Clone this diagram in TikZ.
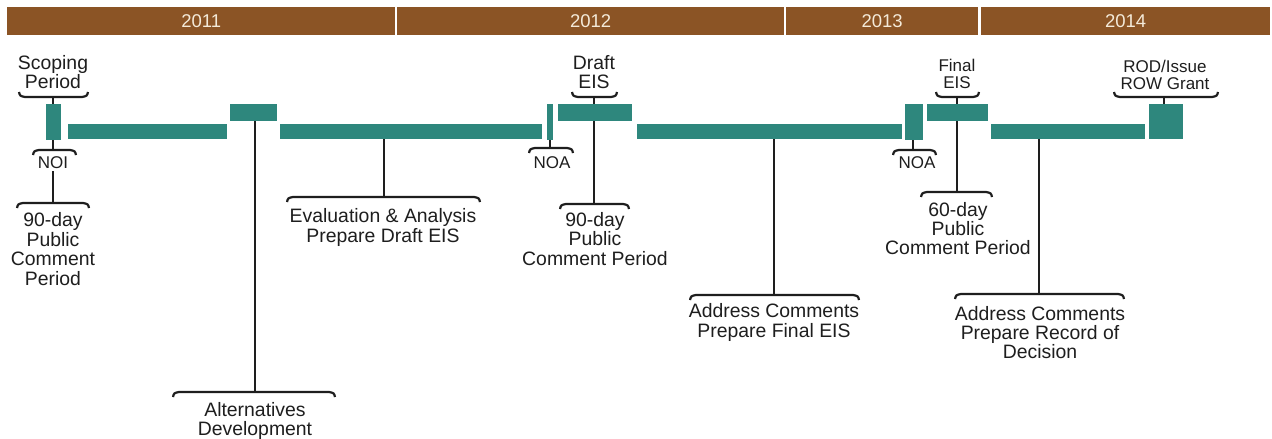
\documentclass[tikz,border=0pt]{standalone}
\usepackage{fontspec}
\setmainfont{Liberation Sans}
\definecolor{yearbrown}{HTML}{8B5425}
\definecolor{phaseteal}{HTML}{2E877D}
\definecolor{yeartext}{HTML}{F4EAD9}
\definecolor{ink}{HTML}{1E1E1E}
\tikzset{
  yearbar/.style={fill=yearbrown, draw=none, text=yeartext, font=\fontsize{18.5}{20}\selectfont, inner sep=0, anchor=north west, minimum height=28},
  phase/.style={fill=phaseteal, draw=none, inner sep=0},
  lbl/.style={font=\fontsize{19.4}{19.4}\selectfont, align=center, inner sep=0, text=ink},
  slbl/.style={font=\fontsize{17}{17.5}\selectfont, align=center, inner sep=0, text=ink},
  stem/.style={draw=ink, line width=2.3pt},
  brk/.style={draw=ink, line width=2.2pt}
}
\newcommand{\tlbrace}[4]{%
  \draw[brk] (#1,{#3+(#4)}) .. controls ({#1+1},{#3+(#4)/5}) .. ({#1+6},#3) -- ({#2-6},#3) .. controls ({#2-1},{#3+(#4)/5}) .. (#2,{#3+(#4)});}
\begin{document}
\begin{tikzpicture}[x=1pt,y=-1pt]
\useasboundingbox (0,0) rectangle (1272,439);
\fill[white] (0,0) rectangle (1272,439);
% year bar
\node[yearbar, minimum width=388] (y11) at (7,7) {2011};
\node[yearbar, minimum width=387] (y12) at (397,7) {2012};
\node[yearbar, minimum width=192] (y13) at (786,7) {2013};
\node[yearbar, minimum width=289] (y14) at (981,7) {2014};
% phases
\node[phase, minimum width=15, minimum height=36] (scop) at (53.5,122) {};
\node[phase, minimum width=159, minimum height=15] (b1) at (147.5,131.5) {};
\node[phase, minimum width=47, minimum height=17] (alt) at (253.5,112.5) {};
\node[phase, minimum width=262, minimum height=15] (eval) at (411,131.5) {};
\node[phase, minimum width=6, minimum height=36] (noa1) at (550,122) {};
\node[phase, minimum width=74, minimum height=17] (deis) at (595,112.5) {};
\node[phase, minimum width=265, minimum height=15] (addr1) at (769.5,131.5) {};
\node[phase, minimum width=18, minimum height=36] (noa2) at (914,122) {};
\node[phase, minimum width=61, minimum height=17] (feis) at (957.5,112.5) {};
\node[phase, minimum width=154, minimum height=15] (addr2) at (1068,131.5) {};
\node[phase, minimum width=34, minimum height=35] (rod) at (1166,121.5) {};
% bracket coordinates
\coordinate (bScop) at (53,97);
\coordinate (bNoi) at (53,150);
\coordinate (b90a) at (53,203);
\coordinate (bAlt) at (255,392);
\coordinate (bEval) at (384,197);
\coordinate (bNoa1) at (550,148);
\coordinate (bDeis) at (594,97);
\coordinate (b90b) at (594,204);
\coordinate (bAd1) at (774,295);
\coordinate (bNoa2) at (913,150);
\coordinate (bFeis) at (957,97);
\coordinate (b60) at (957,192);
\coordinate (bAd2) at (1039,294);
\coordinate (bRod) at (1164,97);
% labels
\node[lbl] (tScop) at (53,72) {Scoping\\Period};
\node[slbl] (tNoi) at (53,163) {NOI};
\node[lbl] (t90a) at (53,249) {90-day\\Public\\Comment\\Period};
\node[lbl] (tAlt) at (255,421) {Alternatives\\Development};
\node[lbl] (tEval) at (383,227.5) {Evaluation \& Analysis\\Prepare Draft EIS};
\node[slbl] (tNoa1) at (552,163) {NOA};
\node[lbl] (tDeis) at (594,72) {Draft\\EIS};
\node[lbl] (t90b) at (595,239) {90-day\\Public\\Comment Period};
\node[lbl] (tAd1) at (774,322.5) {Address Comments\\Prepare Final EIS};
\node[slbl] (tNoa2) at (917,163) {NOA};
\node[slbl] (tFeis) at (957,74) {Final\\EIS};
\node[lbl] (t60) at (958,228.5) {60-day\\Public\\Comment Period};
\node[lbl] (tAd2) at (1040,332.5) {Address Comments\\Prepare Record of\\Decision};
\node[slbl] (tRod) at (1165,75) {ROD/Issue\\ROW Grant};
% brackets
\tlbrace{19}{88}{97}{-5}
\tlbrace{33}{76}{150}{5}
\tlbrace{17}{89}{203}{5}
\tlbrace{173}{335}{392}{5}
\tlbrace{287}{480}{197}{5}
\tlbrace{529}{573}{148}{5}
\tlbrace{572}{617}{97}{-5}
\tlbrace{560}{629}{204}{5}
\tlbrace{690}{859}{295}{5}
\tlbrace{893}{936}{150}{5}
\tlbrace{936}{979}{97}{-5}
\tlbrace{921}{992}{192}{5}
\tlbrace{955}{1124}{294}{5}
\tlbrace{1114}{1218}{97}{-5}
% stems
\draw[stem] (bScop) -- (bScop |- scop.north);
\draw[stem] (bNoi) -- (bNoi |- scop.south);
\draw[stem] ([yshift=-2pt]tNoi.south) -- (b90a);
\draw[stem] (bAlt) -- (bAlt |- alt.south);
\draw[stem] (bEval) -- (bEval |- eval.south);
\draw[stem] (bNoa1) -- (bNoa1 |- noa1.south);
\draw[stem] (bDeis) -- (bDeis |- deis.north);
\draw[stem] (b90b) -- (b90b |- deis.south);
\draw[stem] (bAd1) -- (bAd1 |- addr1.south);
\draw[stem] (bNoa2) -- (bNoa2 |- noa2.south);
\draw[stem] (bFeis) -- (bFeis |- feis.north);
\draw[stem] (b60) -- (b60 |- feis.south);
\draw[stem] (bAd2) -- (bAd2 |- addr2.south);
\draw[stem] (bRod) -- (bRod |- rod.north);
\end{tikzpicture}
\end{document}
